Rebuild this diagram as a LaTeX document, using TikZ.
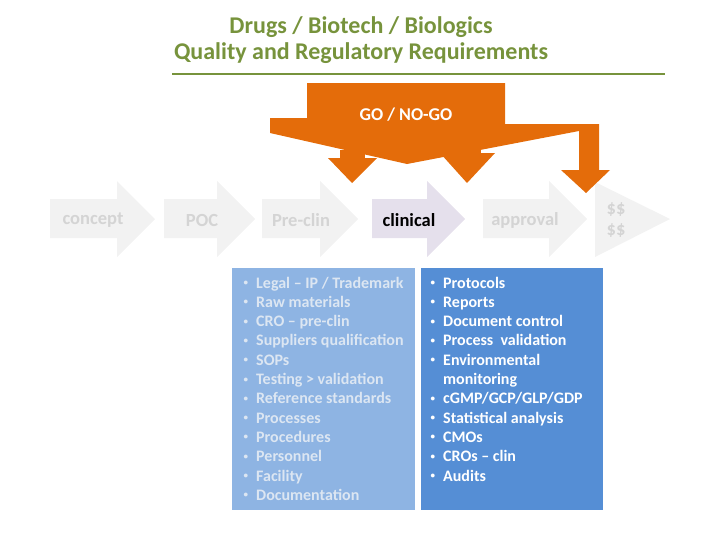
\documentclass[tikz,border=0pt]{standalone}
\usepackage{fontspec}
\setmainfont{Carlito}

\definecolor{titlegreen}{HTML}{77933C}
\definecolor{gonogo}{HTML}{E46C0A}
\definecolor{stagegray}{HTML}{F2F2F2}
\definecolor{stagetext}{HTML}{D4D4D4}
\definecolor{lavender}{HTML}{E5E0EC}
\definecolor{paleblue}{HTML}{8EB4E3}
\definecolor{deepblue}{HTML}{558ED5}
\definecolor{paletext}{HTML}{DCE6F2}

\begin{document}
\begin{tikzpicture}[x=1pt, y=-1pt,
	title/.style={align=center, text=titlegreen, font=\bfseries\fontsize{24}{25.5}\selectfont},
	stagelabel/.style={text=stagetext, font=\bfseries\fontsize{18.5}{21.5}\selectfont},
	item/.style={anchor=base west, inner sep=0pt, font=\bfseries\fontsize{16}{19}\selectfont},
	bul/.style={item, execute at begin node={\llap{\raisebox{2.5pt}{\fontsize{9}{9}\selectfont\textbullet}\hspace{8pt}}}}]
	\useasboundingbox (0,0) rectangle (728,546);
	
	% Title
	\node[title] (title) at (361,40) {Drugs / Biotech / Biologics\\Quality and Regulatory Requirements};
	\draw[titlegreen, line width=1.5pt] (172,74) -- (665,74);
	
	% Stages
	\foreach \a/\b in {50/155, 164/255, 262/358, 483/587}
		\fill[stagegray] (\a,199) -- ({\b-38},199) -- ({\b-38},181) -- (\b,219) -- ({\b-38},257) -- ({\b-38},238) -- (\a,238) -- cycle;
	\fill[lavender] (372,199) -- (427,199) -- (427,181) -- (465,219) -- (427,257) -- (427,238) -- (372,238) -- cycle;
	\fill[stagegray] (595,182) -- (670,219) -- (595,257) -- cycle;
	
	\node[stagelabel] (concept) at (93,220) {concept};
	\node[stagelabel] (poc) at (202,220) {POC};
	\node[stagelabel] (preclin) at (301,220) {Pre-clin};
	\node[stagelabel, text=black] (clinical) at (409,220) {clinical};
	\node[stagelabel] (approval) at (525,220) {approval};
	\node[stagelabel, align=center] (money) at (616,220) {\$\$\\\$\$};
	
	% GO / NO-GO
	\fill[gonogo] (270,118) -- (307,118) -- (307,83) -- (505,83) -- (505,124) -- (599,124) -- (599,170) -- (610,170)
		-- (586,193) -- (561,170) -- (579,170) -- (579,131) -- (407,164) -- (270,133) -- cycle;
	\fill[gonogo] (340,150) rectangle (365,160);
	\fill[gonogo] (328,158) -- (377,158) -- (352,183) -- cycle;
	\fill[gonogo] (453,145) rectangle (481,157);
	\fill[gonogo] (440,153) -- (495,153) -- (467,183) -- cycle;
	\node[text=white, font=\bfseries\fontsize{18}{21}\selectfont] (go) at (406,115) {GO / NO-GO};
	
	% Requirement boxes
	\fill[paleblue] (232,268) rectangle (415,510);
	\fill[deepblue] (421,268) rectangle (603,510);
	
	\foreach \txt [count=\i] in {Legal -- IP / Trademark, Raw materials, CRO -- pre-clin, Suppliers qualification, SOPs,
		Testing > validation, Reference standards, Processes, Procedures, Personnel, Facility, Documentation}
		\node[bul, text=paletext] (pre\i) at (256,{288+19.3*(\i-1)}) {\txt};
	
	\foreach \txt [count=\i] in {Protocols, Reports, Document control, Process\ \ validation, Environmental}
		\node[bul, text=white] (clin\i) at (443,{288+19.3*(\i-1)}) {\txt};
	\node[item, text=white] (clin6) at (443,{288+19.3*5}) {monitoring};
	\foreach \txt [count=\i from 7] in {cGMP/GCP/GLP/GDP, Statistical analysis, CMOs, CROs -- clin, Audits}
		\node[bul, text=white] (clin\i) at (443,{288+19.3*(\i-1)}) {\txt};
\end{tikzpicture}
\end{document}
